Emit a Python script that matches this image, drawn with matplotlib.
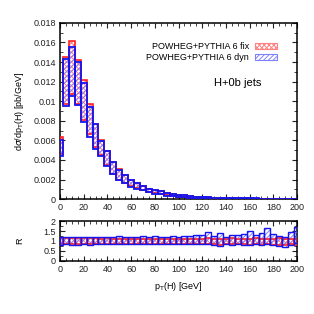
import numpy as np
import matplotlib
matplotlib.use("Agg")
import matplotlib.pyplot as plt
from matplotlib.patches import Patch
from matplotlib.ticker import MultipleLocator

plt.rcParams['font.family'] = ['Liberation Sans', 'DejaVu Sans']
plt.rcParams['hatch.linewidth'] = 0.7

# bin edges (centres at multiples of 5 GeV)
edges = [0, 2.5] + [2.5 + 5 * k for k in range(1, 40)] + [200]
centers = [0, 5, 10, 15, 20, 25, 30, 35, 40, 45, 50, 55, 60, 65, 70, 75, 80,
           85, 90, 95, 100, 105, 110, 115, 120, 125, 130, 135, 140, 145, 150,
           155, 160, 165, 170, 175, 180, 185, 190, 195, 200]

fix_hi = [0.0063, 0.01449, 0.01612, 0.01421, 0.01217, 0.0097, 0.0077, 0.0060,
          0.0049, 0.0038, 0.00303, 0.00247, 0.00195, 0.0016, 0.0013, 0.00105,
          0.0009, 0.00078, 0.00063, 0.00052, 0.00044, 0.00037, 0.0003, 0.00025,
          0.00021, 0.00017, 0.00014, 0.00012, 0.0001, 0.00009, 0.00008,
          0.00007, 0.00006, 0.00005, 0.000045, 0.00004, 0.000035, 0.00003,
          0.000028, 0.000025, 0.000022]
fix_lo = [0.0046, 0.0097, 0.01074, 0.0097, 0.0081, 0.00665, 0.0053, 0.0045,
          0.0035, 0.0026, 0.002, 0.00165, 0.0013, 0.0011, 0.0009, 0.00072,
          0.00058, 0.0005, 0.00038, 0.00031, 0.00026, 0.00021, 0.00017,
          0.00014, 0.00011, 0.00009, 0.00007, 0.00006, 0.00005, 0.00004,
          0.000035, 0.00003, 0.000025, 0.00002, 0.000018, 0.000015, 0.000013,
          0.000012, 0.00001, 0.000009, 0.000008]
dyn_hi = [0.0060, 0.01428, 0.0155, 0.0140, 0.0119, 0.00944, 0.00767, 0.0059,
          0.0049, 0.00378, 0.003, 0.00245, 0.00194, 0.0016, 0.0013, 0.00105,
          0.0009, 0.00079, 0.00064, 0.00053, 0.00045, 0.00038, 0.00031,
          0.00026, 0.00022, 0.00018, 0.00015, 0.00013, 0.00011, 0.0001,
          0.00009, 0.00008, 0.00007, 0.00006, 0.00005, 0.000045, 0.00004,
          0.000035, 0.00003, 0.000028, 0.000025]
dyn_lo = [0.0044, 0.0095, 0.01053, 0.00958, 0.00787, 0.00637, 0.00514, 0.0044,
          0.0034, 0.00256, 0.00195, 0.0016, 0.00128, 0.00106, 0.00088, 0.0007,
          0.00056, 0.00048, 0.00036, 0.0003, 0.00025, 0.0002, 0.00016,
          0.00013, 0.0001, 0.00008, 0.00006, 0.00005, 0.00004, 0.000035,
          0.00003, 0.000025, 0.00002, 0.000018, 0.000015, 0.000012, 0.00001,
          0.000009, 0.000008, 0.000007, 0.000006]

# ratio panel
fix_r_lo = [0.86, 0.85, 0.85, 0.85, 0.86, 0.86, 0.86, 0.86, 0.87, 0.86, 0.87,
            0.86, 0.87, 0.86, 0.87, 0.86, 0.86, 0.85, 0.86, 0.85, 0.86, 0.85,
            0.86, 0.84, 0.86, 0.83, 0.85, 0.82, 0.85, 0.84, 0.83, 0.85, 0.82,
            0.84, 0.80, 0.84, 0.82, 0.80, 0.82, 0.83, 0.80]
fix_r_hi = [1.15, 1.14, 1.14, 1.14, 1.13, 1.13, 1.13, 1.12, 1.13, 1.12, 1.12,
            1.12, 1.11, 1.12, 1.11, 1.12, 1.11, 1.12, 1.11, 1.12, 1.11, 1.12,
            1.10, 1.12, 1.11, 1.13, 1.10, 1.12, 1.11, 1.13, 1.10, 1.12, 1.11,
            1.14, 1.10, 1.12, 1.11, 1.13, 1.10, 1.12, 1.11]
dyn_r_lo = [0.82, 0.83, 0.82, 0.82, 0.83, 0.82, 0.83, 0.84, 0.83, 0.84, 0.85,
            0.84, 0.85, 0.86, 0.84, 0.85, 0.86, 0.85, 0.86, 0.84, 0.86, 0.85,
            0.86, 0.84, 0.87, 0.85, 0.80, 0.75, 0.86, 0.82, 0.84, 0.80, 0.82,
            0.85, 0.78, 0.85, 0.80, 0.75, 0.68, 0.80, 0.90]
dyn_r_hi = [1.22, 1.22, 1.21, 1.21, 1.22, 1.21, 1.22, 1.21, 1.22, 1.21, 1.24,
            1.22, 1.20, 1.22, 1.25, 1.21, 1.23, 1.22, 1.20, 1.24, 1.22, 1.25,
            1.23, 1.30, 1.28, 1.45, 1.25, 1.38, 1.22, 1.30, 1.28, 1.35, 1.50,
            1.30, 1.40, 1.65, 1.35, 1.25, 1.20, 1.45, 1.70]

x_ticks = [0, 20, 40, 60, 80, 100, 120, 140, 160, 180, 200]
label_fix = "POWHEG+PYTHIA 6 fix"
label_dyn = "POWHEG+PYTHIA 6 dyn"

edges = np.array(edges, dtype=float)
widths = np.diff(edges)
lefts = edges[:-1]

red_h = '#ff8080'
red_e = '#ff2020'
blue_h = '#8080ff'
blue_e = '#1515f0'

fig = plt.figure(figsize=(3.14, 3.14), dpi=100)
ax = fig.add_axes([0.191, 0.366, 0.755, 0.561])
axr = fig.add_axes([0.191, 0.169, 0.755, 0.127])


def draw(a, lo_f, hi_f, lo_d, hi_d, lw_b):
    lo_f = np.array(lo_f); hi_f = np.array(hi_f)
    lo_d = np.array(lo_d); hi_d = np.array(hi_d)
    a.bar(lefts, hi_f - lo_f, bottom=lo_f, width=widths, align='edge',
          color='white', edgecolor=red_h, hatch='xxxxxxx', linewidth=0, zorder=2)
    a.bar(lefts, hi_d - lo_d, bottom=lo_d, width=widths, align='edge',
          color='none', edgecolor=blue_h, hatch='///////', linewidth=0, zorder=3)
    a.bar(lefts, hi_f - lo_f, bottom=lo_f, width=widths, align='edge',
          fill=False, edgecolor=red_e, linewidth=1.2, zorder=4)
    a.bar(lefts, hi_d - lo_d, bottom=lo_d, width=widths, align='edge',
          fill=False, edgecolor=blue_e, linewidth=lw_b, zorder=5)


draw(ax, fix_lo, fix_hi, dyn_lo, dyn_hi, 1.3)
draw(axr, fix_r_lo, fix_r_hi, dyn_r_lo, dyn_r_hi, 1.0)

fs = 6.5
for a in (ax, axr):
    a.set_xlim(0, 200)
    a.set_xticks(x_ticks)
    a.xaxis.set_minor_locator(MultipleLocator(5))
    a.tick_params(which='both', direction='in', top=True, right=True,
                  labelsize=fs, colors='#222222', pad=3)
    a.tick_params(which='major', length=3.5, width=0.8)
    a.tick_params(which='minor', length=2, width=0.6)
    for s in a.spines.values():
        s.set_linewidth(1.1)
        s.set_color('black')

ax.set_ylim(0, 0.018)
ax.yaxis.set_major_locator(MultipleLocator(0.002))
ax.yaxis.set_minor_locator(MultipleLocator(0.001))
ax.yaxis.set_major_formatter(plt.FuncFormatter(lambda v, p: ('%g' % round(v, 4))))
ax.set_ylabel(r'd$\sigma$/dp$_\mathrm{T}$(H) [pb/GeV]', fontsize=fs, labelpad=5)

axr.set_ylim(0, 2)
axr.yaxis.set_major_locator(MultipleLocator(0.5))
axr.yaxis.set_minor_locator(MultipleLocator(0.25))
axr.yaxis.set_major_formatter(plt.FuncFormatter(lambda v, p: '%g' % v))
axr.set_ylabel('R', fontsize=fs, labelpad=14)
axr.set_xlabel(r'p$_\mathrm{T}$(H) [GeV]', fontsize=fs, labelpad=4)

ax.text(150, 0.0119, 'H+0b jets', fontsize=8, ha='center', va='center')

handles = [Patch(facecolor='white', edgecolor=red_h, hatch='xxxxxxx', linewidth=0.8),
           Patch(facecolor='white', edgecolor=blue_h, hatch='///////', linewidth=0.8)]
leg = ax.legend(handles, [label_fix, label_dyn], loc='upper right',
                bbox_to_anchor=(0.935, 0.915), frameon=False, fontsize=fs,
                markerfirst=False, handlelength=2.5, handleheight=0.6,
                labelspacing=0.2, handletextpad=0.6, borderpad=0)

fig.savefig('out.png', dpi=100)
